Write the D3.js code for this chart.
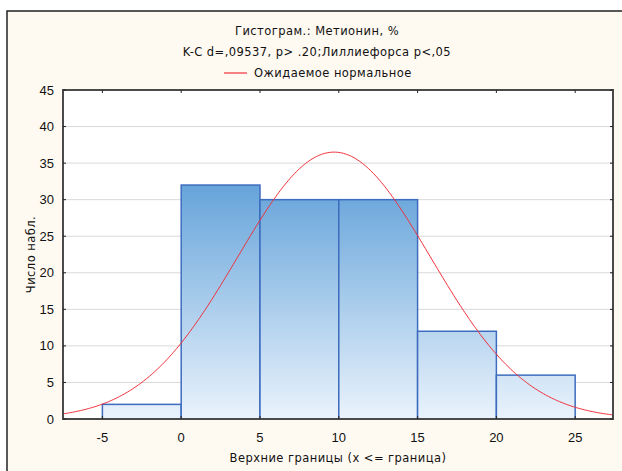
<!DOCTYPE html>
<html>
<head>
<meta charset="utf-8">
<script src="https://cdn.jsdelivr.net/npm/d3@7"></script>
<style>
  body { margin: 0; background: #fff; }
  svg { display: block; font-family: Arial, "Liberation Sans", sans-serif; }
  .lbl { font-family: "DejaVu Sans", sans-serif; font-size: 11.5px; letter-spacing: 0.45px; fill: #111; }
</style>
</head>
<body>
<svg id="chart"></svg>
<script>
// histogram bins (upper bounds) and counts
const binUpper = [0, 5, 10, 15, 20, 25];
const binWidth = 5;
const counts = [2, 32, 30, 30, 12, 6];
const xTicks = [-5, 0, 5, 10, 15, 20, 25];
const yTicks = [0, 5, 10, 15, 20, 25, 30, 35, 40, 45];
// fitted normal parameters (expected normal curve)
const fitMean = 9.7;
const fitSd = 6.12;

const width = 622, height = 471;
const margin = { left: 63, right: 9, top: 90, bottom: 52 };

const svg = d3.select("#chart")
    .attr("width", width)
    .attr("height", height);

// outer frame, cropped on right/bottom like the screenshot
svg.append("rect")
    .attr("x", 7).attr("y", 11)
    .attr("width", width).attr("height", height)
    .attr("fill", "#fffaf1")
    .attr("stroke", "#222")
    .attr("stroke-width", 1.5);

const x = d3.scaleLinear().domain([-7.5, 27.4]).range([margin.left, width - margin.right]);
const y = d3.scaleLinear().domain([0, 45]).range([height - margin.bottom, margin.top]);

const defs = svg.append("defs");
const grad = defs.append("linearGradient")
    .attr("id", "barGrad")
    .attr("gradientUnits", "userSpaceOnUse")
    .attr("x1", 0).attr("x2", 0)
    .attr("y1", y(34)).attr("y2", y(0));
grad.append("stop").attr("offset", "0%").attr("stop-color", "#5e9fd8");
grad.append("stop").attr("offset", "100%").attr("stop-color", "#eaf3fc");

defs.append("clipPath").attr("id", "plotClip")
  .append("rect")
    .attr("x", x.range()[0]).attr("y", y.range()[1])
    .attr("width", x.range()[1] - x.range()[0])
    .attr("height", y.range()[0] - y.range()[1]);

// plot background
svg.append("rect")
    .attr("x", x.range()[0]).attr("y", y.range()[1])
    .attr("width", x.range()[1] - x.range()[0])
    .attr("height", y.range()[0] - y.range()[1])
    .attr("fill", "#fff");

// gridlines
svg.append("g")
  .selectAll("line")
  .data(yTicks.slice(1, -1))
  .join("line")
    .attr("x1", x.range()[0]).attr("x2", x.range()[1])
    .attr("y1", d => y(d)).attr("y2", d => y(d))
    .attr("stroke", "#d9d9d9")
    .attr("stroke-width", 1);

// bars
svg.append("g")
  .selectAll("rect")
  .data(counts)
  .join("rect")
    .attr("x", (d, i) => x(binUpper[i] - binWidth))
    .attr("y", d => y(d))
    .attr("width", (d, i) => x(binUpper[i]) - x(binUpper[i] - binWidth))
    .attr("height", d => y(0) - y(d))
    .attr("fill", "url(#barGrad)")
    .attr("stroke", "#3d6cbf")
    .attr("stroke-width", 1.5);

// expected normal curve
const total = d3.sum(counts);
const curve = d3.range(x.domain()[0], x.domain()[1] + 0.01, 0.1).map(v => {
  const z = (v - fitMean) / fitSd;
  return [v, total * binWidth * Math.exp(-0.5 * z * z) / (fitSd * Math.sqrt(2 * Math.PI))];
});
svg.append("path")
    .datum(curve)
    .attr("clip-path", "url(#plotClip)")
    .attr("fill", "none")
    .attr("stroke", "#f0303a")
    .attr("stroke-width", 1)
    .attr("d", d3.line().x(d => x(d[0])).y(d => y(d[1])));

// plot border
svg.append("rect")
    .attr("x", x.range()[0]).attr("y", y.range()[1])
    .attr("width", x.range()[1] - x.range()[0])
    .attr("height", y.range()[0] - y.range()[1])
    .attr("fill", "none")
    .attr("stroke", "#4a4a4a")
    .attr("stroke-width", 2);

// inner tick marks on all four sides
const tickG = svg.append("g").attr("stroke", "#222").attr("stroke-width", 1);
xTicks.forEach(t => {
  tickG.append("line").attr("x1", x(t)).attr("x2", x(t)).attr("y1", y(0)).attr("y2", y(0) - 3);
  tickG.append("line").attr("x1", x(t)).attr("x2", x(t)).attr("y1", y(45)).attr("y2", y(45) + 3);
});
yTicks.forEach(t => {
  tickG.append("line").attr("x1", x.range()[0]).attr("x2", x.range()[0] + 3).attr("y1", y(t)).attr("y2", y(t));
  tickG.append("line").attr("x1", x.range()[1]).attr("x2", x.range()[1] - 3).attr("y1", y(t)).attr("y2", y(t));
});

// tick labels
svg.append("g")
  .selectAll("text")
  .data(yTicks)
  .join("text")
    .attr("x", x.range()[0] - 9)
    .attr("y", d => y(d) + 4.5)
    .attr("text-anchor", "end")
    .attr("font-size", 13)
    .attr("fill", "#111")
    .text(d => d);

svg.append("g")
  .selectAll("text")
  .data(xTicks)
  .join("text")
    .attr("x", d => x(d))
    .attr("y", y(0) + 23)
    .attr("text-anchor", "middle")
    .attr("font-size", 13)
    .attr("fill", "#111")
    .text(d => d);

// axis titles
const cx = (x.range()[0] + x.range()[1]) / 2;
svg.append("text")
    .attr("class", "lbl")
    .attr("x", cx).attr("y", 462)
    .attr("text-anchor", "middle")
    .text("Верхние границы (x <= граница)");

svg.append("text")
    .attr("class", "lbl")
    .attr("transform", `translate(35,${(y.range()[0] + y.range()[1]) / 2}) rotate(-90)`)
    .attr("text-anchor", "middle")
    .text("Число набл.");

// titles, centred on the frame rather than the plot
const tx = 317;
svg.append("text")
    .attr("class", "lbl")
    .attr("x", tx).attr("y", 35)
    .attr("text-anchor", "middle")
    .text("Гистограм.: Метионин, %");
svg.append("text")
    .attr("class", "lbl")
    .attr("x", tx).attr("y", 56)
    .attr("text-anchor", "middle")
    .text("K-C d=,09537, p> .20;Лиллиефорса p<,05");

// legend
svg.append("line")
    .attr("x1", 224).attr("x2", 247)
    .attr("y1", 73).attr("y2", 73)
    .attr("stroke", "#f0303a")
    .attr("stroke-width", 1.2);
svg.append("text")
    .attr("class", "lbl")
    .attr("x", 254).attr("y", 77)
    .text("Ожидаемое нормальное");
</script>
</body>
</html>
